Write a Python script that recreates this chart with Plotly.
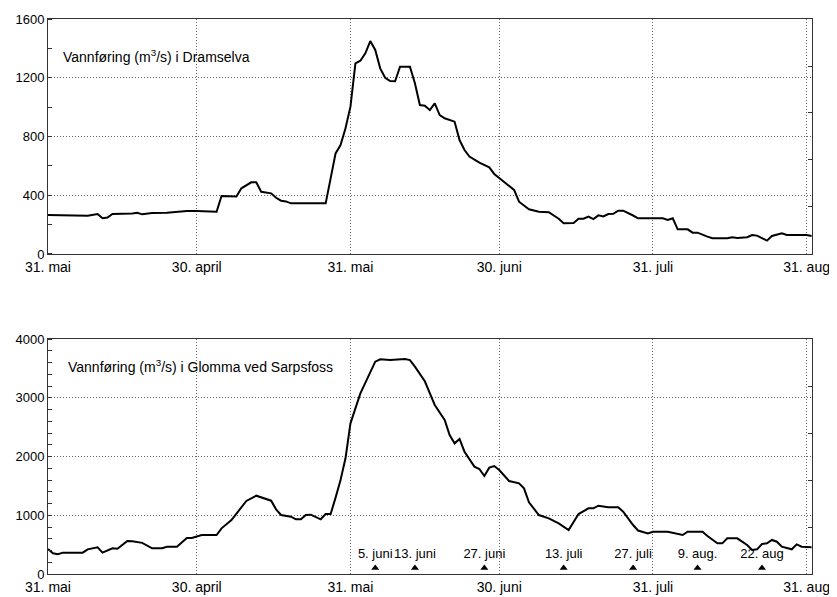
import pandas as pd
import plotly.graph_objects as go

# ---------------- data ----------------
start_date = "2013-03-31"          # day 0 of the series

# Vannføring i Dramselva (m3/s); day number counted from 31 March
dram_day = [0, 3, 8, 10, 11, 12, 13, 17, 18, 19, 21, 24, 26, 28, 30, 34, 35, 38, 39, 41,
            42, 43, 45, 46, 47, 48, 49, 56, 57, 58, 59, 60, 61, 62, 63, 64, 65, 66, 67, 68,
            69, 70, 71, 73, 74, 75, 76, 77, 78, 79, 80, 82, 83, 84, 85, 87, 89, 90, 92, 94,
            95, 97, 99, 101, 103, 104, 106, 107, 108, 109, 110, 111, 112, 113, 114, 115, 116,
            117, 118, 119, 124, 125, 126, 127, 129, 130, 131, 133, 134, 137, 138, 139, 141,
            142, 143, 145, 146, 148, 149, 153, 154]
dram_q = [265, 263, 260, 272, 243, 248, 272, 275, 281, 270, 279, 281, 288, 293, 293, 288, 395,
          392, 447, 488, 488, 424, 413, 383, 363, 358, 345, 345, 515, 685, 742, 856, 1003, 1298,
          1316, 1366, 1450, 1389, 1264, 1200, 1178, 1176, 1275, 1275, 1162, 1014, 1010, 980,
          1026, 946, 924, 901, 776, 708, 663, 622, 590, 545, 490, 436, 356, 304, 288, 284, 240,
          209, 211, 240, 240, 254, 238, 263, 256, 272, 274, 295, 295, 280, 262, 243, 243, 231,
          243, 168, 168, 145, 145, 118, 107, 107, 114, 109, 114, 129, 125, 91, 123, 141, 129,
          129, 123]

# Vannføring i Glomma ved Sarpsfoss (m3/s)
glom_day = [0, 1, 2, 3, 7, 8, 10, 11, 13, 14, 16, 17, 19, 21, 23, 24, 26, 28, 29, 31, 34, 35,
            37, 39, 40, 42, 43, 45, 46, 47, 49, 50, 51, 52, 53, 55, 56, 57, 58, 59, 60, 61, 63,
            64, 65, 66, 67, 69, 72, 73, 74, 76, 77, 78, 80, 81, 82, 83, 84, 86, 87, 88, 89, 90,
            91, 93, 95, 96, 97, 99, 101, 103, 105, 107, 109, 110, 111, 113, 115, 116, 118, 119,
            121, 122, 125, 128, 129, 132, 133, 135, 136, 137, 139, 141, 142, 143, 144, 145, 146,
            147, 148, 150, 151, 152, 154]
glom_q = [425, 352, 335, 363, 363, 420, 454, 363, 437, 431, 562, 556, 530, 437, 437, 465, 465,
          613, 613, 664, 664, 777, 919, 1129, 1243, 1333, 1305, 1248, 1101, 1004, 976, 931, 931,
          1004, 1010, 931, 1021, 1021, 1300, 1600, 1969, 2565, 3075, 3260, 3420, 3614, 3654,
          3642, 3660, 3642, 3530, 3280, 3080, 2877, 2621, 2366, 2224, 2298, 2082, 1827, 1787,
          1668, 1810, 1838, 1770, 1583, 1543, 1458, 1220, 1004, 948, 863, 749, 1021, 1118, 1118,
          1163, 1135, 1135, 1061, 834, 740, 692, 720, 720, 664, 720, 720, 647, 522, 522, 607,
          607, 494, 408, 420, 511, 522, 579, 550, 465, 420, 505, 465, 454]

# marked dates in the Glomma panel
mark_dates = ["2013-06-05", "2013-06-13", "2013-06-27", "2013-07-13", "2013-07-27",
              "2013-08-09", "2013-08-22"]
mark_labels = ["5. juni", "13. juni", "27. juni", "13. juli", "27. juli", "9. aug.", "22. aug"]

# x tick labels
tick_dates = ["2013-03-31", "2013-04-30", "2013-05-31", "2013-06-30", "2013-07-31", "2013-08-31"]
tick_text = ["31. mai", "30. april", "31. mai", "30. juni", "31. juli", "31. aug"]

# ---------------- figure ----------------
t0 = pd.Timestamp(start_date)
dram_x = [t0 + pd.Timedelta(days=d) for d in dram_day]
glom_x = [t0 + pd.Timedelta(days=d) for d in glom_day]

FONT = "Liberation Sans, Arial, sans-serif"
fig = go.Figure()

fig.add_trace(go.Scatter(x=dram_x, y=dram_q, mode="lines",
                         line=dict(color="black", width=2), xaxis="x", yaxis="y",
                         showlegend=False, hoverinfo="skip"))
fig.add_trace(go.Scatter(x=glom_x, y=glom_q, mode="lines",
                         line=dict(color="black", width=2), xaxis="x2", yaxis="y2",
                         showlegend=False, hoverinfo="skip"))
fig.add_trace(go.Scatter(x=mark_dates, y=[100] * len(mark_dates), mode="markers",
                         marker=dict(symbol="triangle-up", size=7, color="black"),
                         xaxis="x2", yaxis="y2", showlegend=False, hoverinfo="skip"))
fig.add_trace(go.Scatter(x=mark_dates, y=[325] * len(mark_dates), mode="text",
                         text=mark_labels, textposition="middle center",
                         textfont=dict(family=FONT, size=13, color="black"),
                         xaxis="x2", yaxis="y2", showlegend=False, hoverinfo="skip"))
# empty traces so the right-hand tick axes are drawn
fig.add_trace(go.Scatter(x=[], y=[], xaxis="x", yaxis="y3", showlegend=False))
fig.add_trace(go.Scatter(x=[], y=[], xaxis="x2", yaxis="y4", showlegend=False))

GRID = "#666"
GDASH = "1px,2px"
xr = ["2013-03-31", "2013-09-01 02:00"]
xcommon = dict(type="date", range=xr, tickvals=tick_dates, ticktext=tick_text,
               showgrid=True, gridcolor=GRID, griddash=GDASH, gridwidth=1,
               showline=True, linecolor="#333", linewidth=1, mirror=True,
               ticks="", zeroline=False, automargin=False,
               tickfont=dict(family=FONT, size=14, color="black"))
ycommon = dict(showgrid=True, gridcolor=GRID, griddash=GDASH, gridwidth=1,
               showline=True, linecolor="#333", linewidth=1, mirror=True,
               ticks="", zeroline=False, automargin=False,
               tickfont=dict(family=FONT, size=13, color="black"))

# the page body adds an 8 px offset, so the figure is 8 px smaller on each axis
fig.update_layout(
    width=829, height=589,
    margin=dict(l=40, r=25, t=11, b=23),
    paper_bgcolor="white", plot_bgcolor="white",
    font=dict(family=FONT, color="black"),
    xaxis=dict(anchor="y", domain=[0, 1], **xcommon),
    xaxis2=dict(anchor="y2", domain=[0, 1], **xcommon),
    yaxis=dict(anchor="x", domain=[0.5766, 1], range=[0, 1600],
               tickvals=[0, 400, 800, 1200, 1600],
               minor=dict(ticks="inside", ticklen=4, dtick=200, tickcolor="#333", showgrid=False),
               **ycommon),
    yaxis2=dict(anchor="x2", domain=[0, 0.4234], range=[0, 4000],
                tickvals=[0, 1000, 2000, 3000, 4000],
                minor=dict(ticks="inside", ticklen=4, dtick=200, tickcolor="#333", showgrid=False),
                **ycommon),
    yaxis3=dict(overlaying="y", side="right", anchor="x", range=[0, 1600], dtick=320,
                ticks="inside", ticklen=4, tickcolor="#333", showticklabels=False,
                showgrid=False, zeroline=False, showline=False, automargin=False),
    yaxis4=dict(overlaying="y2", side="right", anchor="x2", range=[0, 4000], dtick=800,
                ticks="inside", ticklen=4, tickcolor="#333", showticklabels=False,
                showgrid=False, zeroline=False, showline=False, automargin=False),
    annotations=[
        dict(text="Vannføring (m<sup>3</sup>/s) i Dramselva", xref="x domain", yref="y domain",
             x=0.017, y=0.843, xanchor="left", yanchor="middle", showarrow=False,
             font=dict(family=FONT, size=14, color="black")),
        dict(text="Vannføring (m<sup>3</sup>/s) i Glomma ved Sarpsfoss", xref="x2 domain",
             yref="y2 domain", x=0.023, y=0.885, xanchor="left", yanchor="middle",
             showarrow=False, font=dict(family=FONT, size=14, color="black")),
    ],
)

fig.write_html("out.html")
